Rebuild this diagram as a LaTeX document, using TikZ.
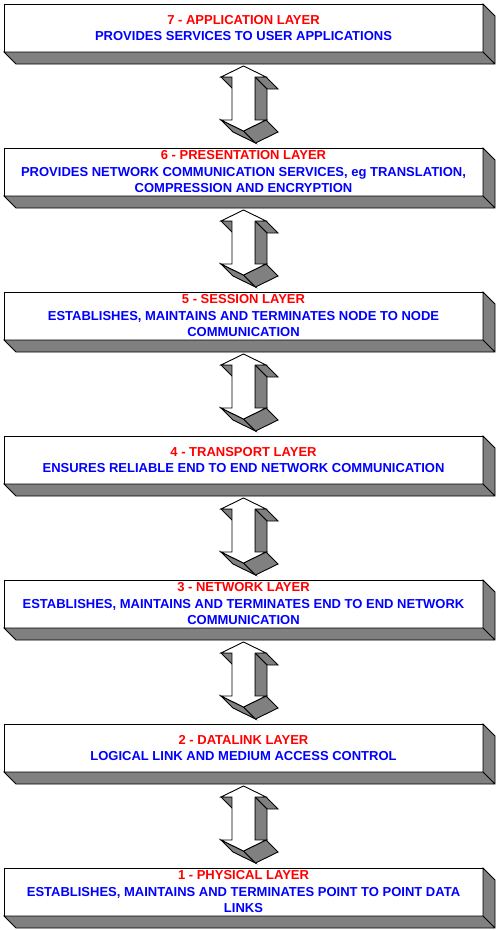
\documentclass[tikz,border=0pt]{standalone}
\usepackage{fontspec}
\setmainfont{Liberation Sans}
\usepackage{tikz}
\definecolor{shade}{RGB}{128,128,128}
\tikzset{
layer/.style={draw, fill=white, line width=0.9pt, outer sep=0pt, minimum width=479pt, minimum height=48pt, inner sep=0pt, align=center, text=blue, font=\fontsize{13}{16.5}\selectfont\bfseries},
side/.style={draw, fill=shade, line width=0.9pt}
}
\newcommand{\ttl}[1]{\textcolor{red}{#1}}
\begin{document}
\begin{tikzpicture}[x=1pt,y=1pt]
\useasboundingbox (0,0) rectangle (497,-930);
\node[layer] (L7) at (243.5,-28) {\ttl{7 - APPLICATION LAYER}\\PROVIDES SERVICES TO USER APPLICATIONS};
\node[layer] (L6) at (243.5,-172) {\ttl{6 - PRESENTATION LAYER}\\PROVIDES NETWORK COMMUNICATION SERVICES, eg TRANSLATION,\\COMPRESSION AND ENCRYPTION};
\node[layer] (L5) at (243.5,-316) {\ttl{5 - SESSION LAYER}\\ESTABLISHES, MAINTAINS AND TERMINATES NODE TO NODE\\COMMUNICATION};
\node[layer] (L4) at (243.5,-460) {\ttl{4 - TRANSPORT LAYER}\\ENSURES RELIABLE END TO END NETWORK COMMUNICATION};
\node[layer] (L3) at (243.5,-604) {\ttl{3 - NETWORK LAYER}\\ESTABLISHES, MAINTAINS AND TERMINATES END TO END NETWORK\\COMMUNICATION};
\node[layer] (L2) at (243.5,-748) {\ttl{2 - DATALINK LAYER}\\LOGICAL LINK AND MEDIUM ACCESS CONTROL};
\node[layer] (L1) at (243.5,-892) {\ttl{1 - PHYSICAL LAYER}\\ESTABLISHES, MAINTAINS AND TERMINATES POINT TO POINT DATA\\LINKS};
\foreach \n in {L7,L6,L5,L4,L3,L2,L1}
  \draw[side] (\n.south west) -- ++(12,-12) -- ++(479,0) -- ++(0,48) -- (\n.north east) -- (\n.south east) -- cycle (\n.south east) -- ++(12,-12);
\foreach \a/\b in {L7/L6,L6/L5,L5/L4,L4/L3,L3/L2,L2/L1}{
  \begin{scope}[shift={(\a.south)}]
  \draw[side] (-22.5,-25) -- (-11.5,-25) -- (0.5,-37) -- (-10.5,-37) -- cycle;
  \draw[side] (11.5,-25) -- (22.5,-25) -- (34.5,-37) -- (23.5,-37) -- cycle;
  \draw[side] (11.5,-25) -- (23.5,-37) -- (23.5,-80) -- (11.5,-68) -- cycle;
  \draw[side] (-22.5,-68) -- (0,-79) -- (12,-91) -- (-10.5,-80) -- cycle;
  \draw[side] (0,-79) -- (22.5,-68) -- (34.5,-80) -- (12,-91) -- cycle;
  \draw[line width=0.9pt, fill=white] (0,-14) -- (22.5,-25) -- (11.5,-25) -- (11.5,-68) -- (22.5,-68) -- (0,-79) -- (-22.5,-68) -- (-11.5,-68) -- (-11.5,-25) -- (-22.5,-25) -- cycle;
  \end{scope}
}
\end{tikzpicture}
\end{document}
